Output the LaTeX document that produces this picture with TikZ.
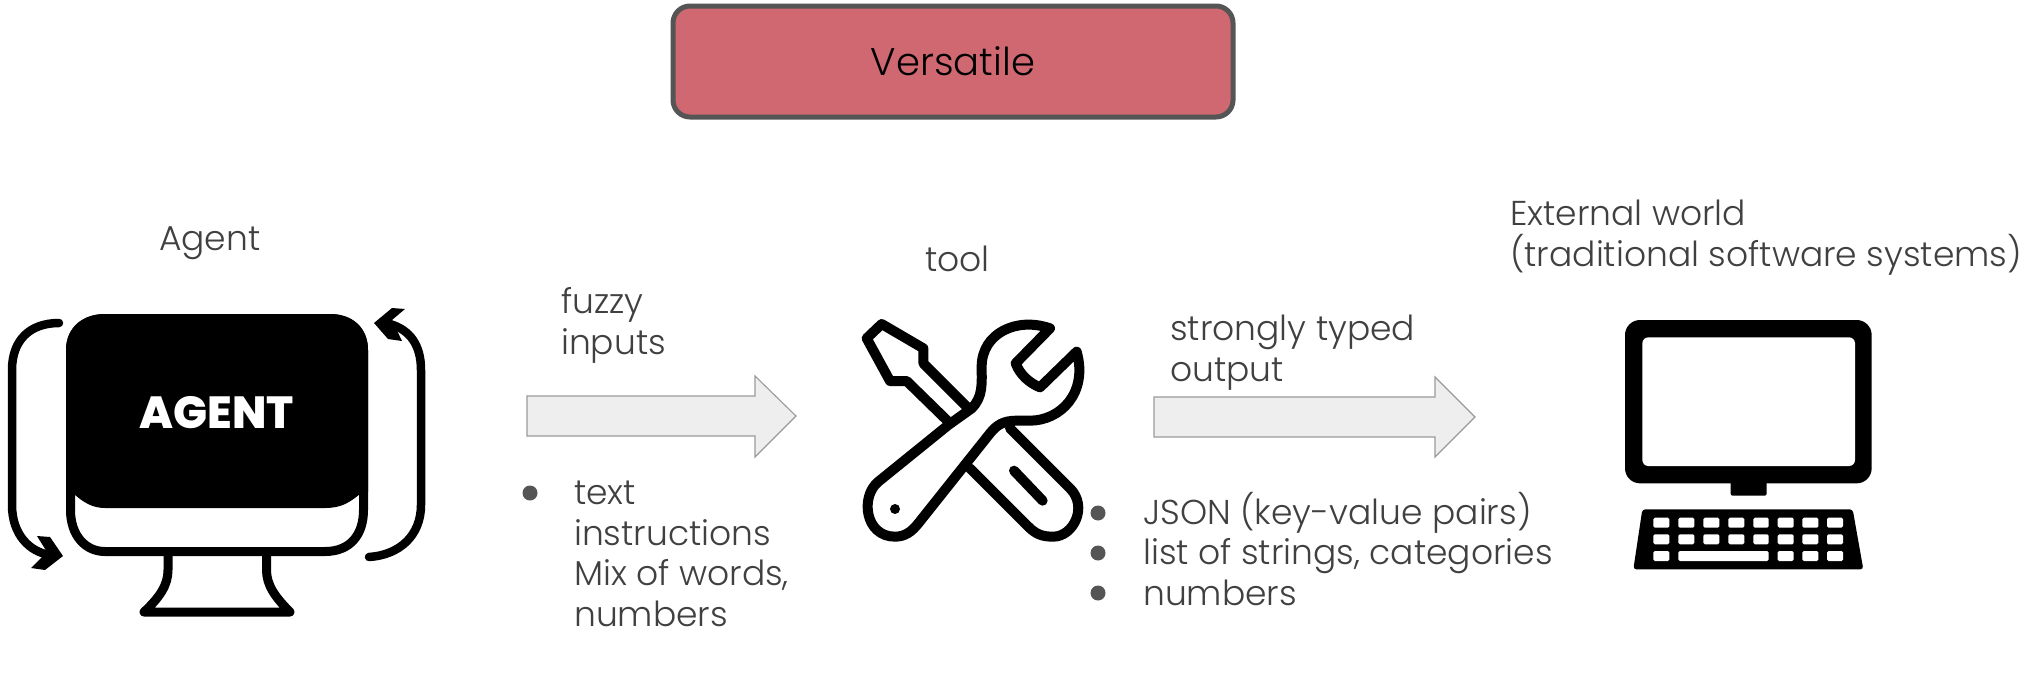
\documentclass[tikz,border=0pt]{standalone}
\usepackage{fontspec}
\setmainfont{Poppins Light}[BoldFont={Poppins ExtraBold}]
\begin{document}
\begin{tikzpicture}[x=1pt,y=-1pt,
  lbl/.style={anchor=base west,inner sep=0pt,text=txtgray,font=\fontsize{34.5}{40}\selectfont},
  bul/.style={circle,fill=bulgray,inner sep=0pt,minimum size=15pt},
  fat/.style={draw=arrowedge,fill=arrowfill,line width=1.1pt,line join=miter},
  ico/.style={draw=black,line width=10pt,line join=round,line cap=round},
  keycap/.style={fill=white,rounded corners=1.5pt},
]
\definecolor{txtgray}{HTML}{404040}
\definecolor{bulgray}{HTML}{555555}
\definecolor{arrowedge}{HTML}{9A9A9A}
\definecolor{arrowfill}{HTML}{EEEEEE}
\definecolor{boxred}{HTML}{CF6871}
\useasboundingbox (0,0) rectangle (2032,672);
\fill[white] (0,0) rectangle (2032,672);

% title box
\node[draw=bulgray,fill=boxred,line width=5pt,rounded corners=17pt,minimum width=560pt,minimum height=111pt,inner sep=0pt,font=\fontsize{38.5}{40}\selectfont,text=black] (title) at (953,61.5) {Versatile};

% labels
\node[lbl] (agentlbl) at (159,250) {Agent};
\node[lbl] (toollbl) at (925,271) {tool};
\node[lbl] (fuzzy) at (561,313) {fuzzy};
\node[lbl] (inputs) at (561,354) {inputs};
\node[lbl] (strongly) at (1170,340) {strongly typed};
\node[lbl] (output) at (1170,381) {output};
\node[lbl] (ext1) at (1510,225) {External world};
\node[lbl] (ext2) at (1510,266) {(traditional software systems)};

\node[bul] (b1) at (530,493) {};
\node[lbl] (t1) at (574,504) {text};
\node[lbl] (t2) at (574,545) {instructions};
\node[lbl] (t3) at (574,585) {Mix of words,};
\node[lbl] (t4) at (574,626) {numbers};

\node[bul] (b2) at (1098,513) {};
\node[bul] (b3) at (1098,553) {};
\node[bul] (b4) at (1098,593) {};
\node[lbl] (j1) at (1143,524) {JSON (key-value pairs)};
\node[lbl] (j2) at (1143,564) {list of strings, categories};
\node[lbl] (j3) at (1143,605) {numbers};

% block arrows
\draw[fat] (527,396) -- (755,396) -- (755,376) -- (796,416) -- (755,457) -- (755,436) -- (527,436) -- cycle;
\draw[fat] (1154,397) -- (1435,397) -- (1435,377) -- (1475,417) -- (1435,457) -- (1435,437) -- (1154,437) -- cycle;

% agent monitor
\draw[black,line width=9pt,line join=round] (70.5,350) .. controls (70.5,330) and (85,318.5) .. (105,318.5) -- (330,318.5) .. controls (350,318.5) and (363.5,330) .. (363.5,350) -- (363.5,510) .. controls (363.5,535) and (350,551.5) .. (325,551.5) -- (105,551.5) .. controls (85,551.5) and (70.5,535) .. (70.5,510) -- cycle;
\fill[black] (66,350) .. controls (66,328) and (83,314) .. (105,314) -- (330,314) .. controls (352,314) and (368,328) .. (368,350) -- (368,492) -- (360,494) .. controls (350,502) and (342,508) .. (325,508) -- (105,508) .. controls (92,508) and (83,502) .. (74,494) -- (66,492) -- cycle;
\draw[black,line width=9pt,line join=round] (168,552) -- (168,570) .. controls (168,585) and (160,597) .. (144,612) -- (290,612) .. controls (275,597) and (266.5,585) .. (266.5,570) -- (266.5,552);
\node[inner sep=0pt,text=white,font=\fontsize{45}{46}\selectfont\bfseries] (agentname) at (217,412.5) {AGENT};

% loop arrows
\draw[black,line width=8.5pt,line cap=round] (59,323) .. controls (30,323) and (12,340) .. (12,370) -- (12,505) .. controls (12,535) and (30,552) .. (50,555);
\fill[black] (63,556) -- (50,537) -- (37,536) -- (47,552) -- (44,555) -- (31,568) -- (45,570) -- cycle;
\draw[black,line width=8.5pt,line cap=round] (369,557) .. controls (400,555) and (421,535) .. (421,505) -- (421,370) .. controls (421,345) and (410,330) .. (390,324);
\fill[black] (374,323) -- (392,308) -- (405,309) -- (392,320) -- (402,341) -- (388,339) -- cycle;

% tools
\begin{scope}[shift={(840,300)},x=1pt/3,y=-1pt/3]
\draw[ico] (325,365) -- (200,243) -- (150,243) -- (80,115) -- (125,72) -- (250,145) -- (250,190) -- (385,325);
\draw[ico] (325,375) -- (115,545) .. controls (60,590) and (75,710) .. (165,710) .. controls (195,710) and (215,695) .. (235,670) -- (450,400) .. controls (470,375) and (490,362) .. (530,362) -- (570,362) .. controls (660,362) and (745,280) .. (710,155) -- (600,262) .. controls (570,250) and (540,225) .. (527,190) -- (630,85) .. controls (530,50) and (425,100) .. (425,200) .. controls (425,250) and (430,290) .. (395,325) -- cycle;
\draw[ico] (510,385) -- (690,565) .. controls (745,620) and (700,710) .. (640,710) .. controls (610,710) and (590,705) .. (565,680) -- (390,505);
\draw[ico] (522,512) -- (608,602);
\fill[black] (165,627) circle[radius=15];
\end{scope}

% computer
\begin{scope}[shift={(1600,300)},x=1pt/3,y=-1pt/3]
\fill[black,rounded corners=15pt] (75,60) rectangle (815,550);
\fill[white,rounded corners=6pt] (127,112) rectangle (765,498);
\fill[black,rounded corners=2pt] (392,540) rectangle (500,587);
\fill[black,rounded corners=3pt] (127,628) -- (758,628) -- (790,808) -- (100,808) -- cycle;
\foreach \a/\b in {160/208,235/283,310/358,385/433,460/506,533/581,607/655,681/729}{
  \fill[keycap] (\a,653) rectangle (\b,683);
  \fill[keycap] (\a,703) rectangle (\b,733);
}
\foreach \a/\b in {160/208,235/506,533/581,607/655,681/729}{
  \fill[keycap] (\a,753) rectangle (\b,783);
}
\end{scope}
\end{tikzpicture}
\end{document}
